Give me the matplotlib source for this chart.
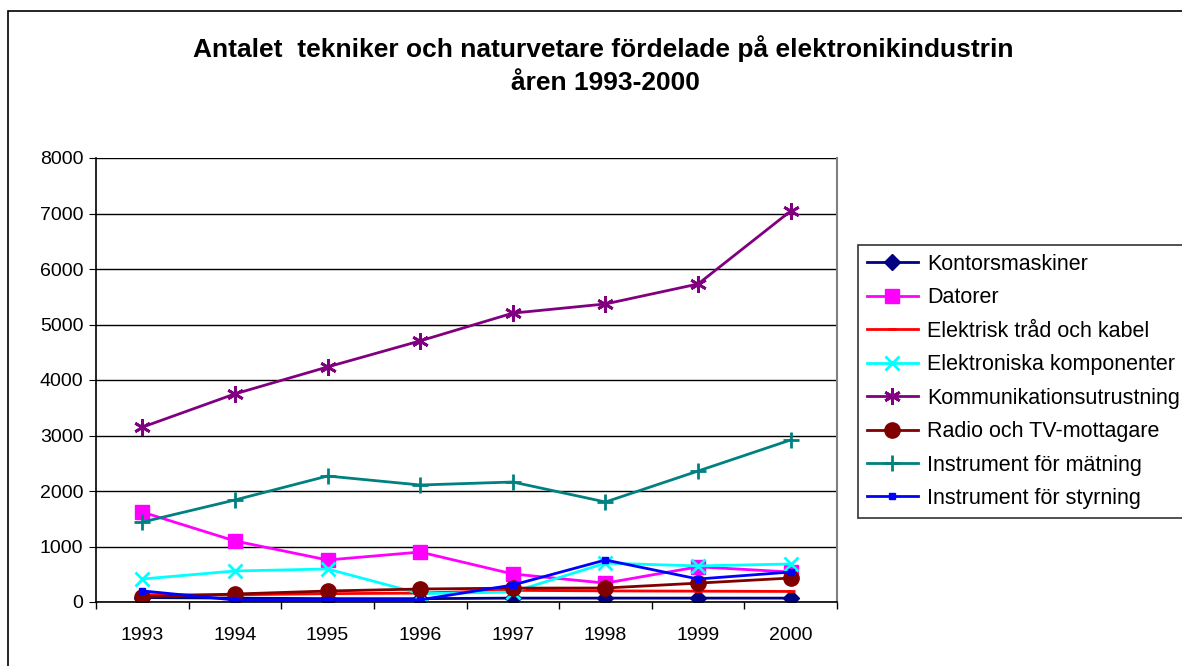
import matplotlib
matplotlib.use("Agg")
import matplotlib.pyplot as plt
from matplotlib.patches import Rectangle

plt.rcParams['font.family'] = ['Liberation Sans', 'DejaVu Sans']

years = ['1993', '1994', '1995', '1996', '1997', '1998', '1999', '2000']

kontorsmaskiner = [80, 70, 60, 60, 70, 70, 70, 70]
datorer = [1620, 1100, 757, 900, 505, 340, 634, 540]
elektrisk_trad = [130, 130, 150, 160, 210, 200, 195, 190]
elektroniska_komp = [414, 559, 595, 150, 180, 700, 650, 685]
kommunikation = [3150, 3750, 4235, 4705, 5205, 5370, 5730, 7045]
radio_tv = [90, 144, 198, 234, 250, 252, 340, 432]
instr_matning = [1440, 1838, 2270, 2108, 2162, 1802, 2360, 2920]
instr_styrning = [200, 36, 40, 40, 306, 757, 414, 540]

series = [
    ('Kontorsmaskiner', kontorsmaskiner, '#000080', 'D', 8),
    ('Datorer', datorer, '#ff00ff', 's', 10),
    ('Elektrisk tråd och kabel', elektrisk_trad, '#ff0000', '_', 6),
    ('Elektroniska komponenter', elektroniska_komp, '#00ffff', 'x', 10),
    ('Kommunikationsutrustning', kommunikation, '#800080', (6, 2, 0), 12),
    ('Radio och TV-mottagare', radio_tv, '#800000', 'o', 11),
    ('Instrument för mätning', instr_matning, '#008080', '+', 12),
    ('Instrument för styrning', instr_styrning, '#0000ff', 's', 4),
]

fig = plt.figure(figsize=(11.82, 6.66), dpi=100)
fig.patches.append(Rectangle((8 / 1182, -0.1), 1.2, 1.1 - 11 / 666,
                             transform=fig.transFigure, fill=False,
                             edgecolor='black', linewidth=1.2))
ax = fig.add_axes([96 / 1182, 1 - 602 / 666, (837 - 96) / 1182, (602 - 158) / 666])

x = list(range(len(years)))
for name, vals, color, marker, ms in series:
    if marker in ('x', '+', '_') or isinstance(marker, tuple):
        ax.plot(x, vals, color=color, lw=2, marker=marker, ms=ms, mew=2, label=name)
    else:
        ax.plot(x, vals, color=color, lw=2, marker=marker, ms=ms,
                mec=color, mfc=color, label=name)

ax.set_xlim(-0.5, 7.5)
ax.set_ylim(0, 8000)
ax.set_yticks(range(0, 8001, 1000))
ax.yaxis.grid(True, color='black', lw=1)
ax.set_axisbelow(True)
ax.set_xticks(x)
ax.set_xticklabels(years)
ax.set_xticks([i - 0.5 for i in range(len(years) + 1)], minor=True)
ax.tick_params(axis='x', which='major', length=0, pad=18, labelsize=14)
ax.tick_params(axis='x', which='minor', length=5, direction='out', width=1)
ax.tick_params(axis='y', length=5, direction='out', labelsize=14, pad=4)
ax.spines['top'].set_visible(False)
ax.spines['right'].set_color('#808080')
ax.spines['right'].set_linewidth(1.5)
ax.spines['left'].set_linewidth(1.2)
ax.spines['bottom'].set_linewidth(1.2)

fig.text(603 / 1182, 1 - 49 / 666, 'Antalet  tekniker och naturvetare fördelade på elektronikindustrin',
         ha='center', va='center', fontsize=19, fontweight='bold')
fig.text(605 / 1182, 1 - 83 / 666, 'åren 1993-2000',
         ha='center', va='center', fontsize=19, fontweight='bold')

leg = fig.legend(loc='upper left', bbox_to_anchor=(858 / 1182, 1 - 245 / 666),
                 frameon=True, fancybox=False, edgecolor='black', fontsize=15.5,
                 handlelength=2.4, handletextpad=0.4, labelspacing=0.58,
                 borderpad=0.4, borderaxespad=0)
leg.get_frame().set_linewidth(1.2)

fig.savefig('out.png', dpi=100)
